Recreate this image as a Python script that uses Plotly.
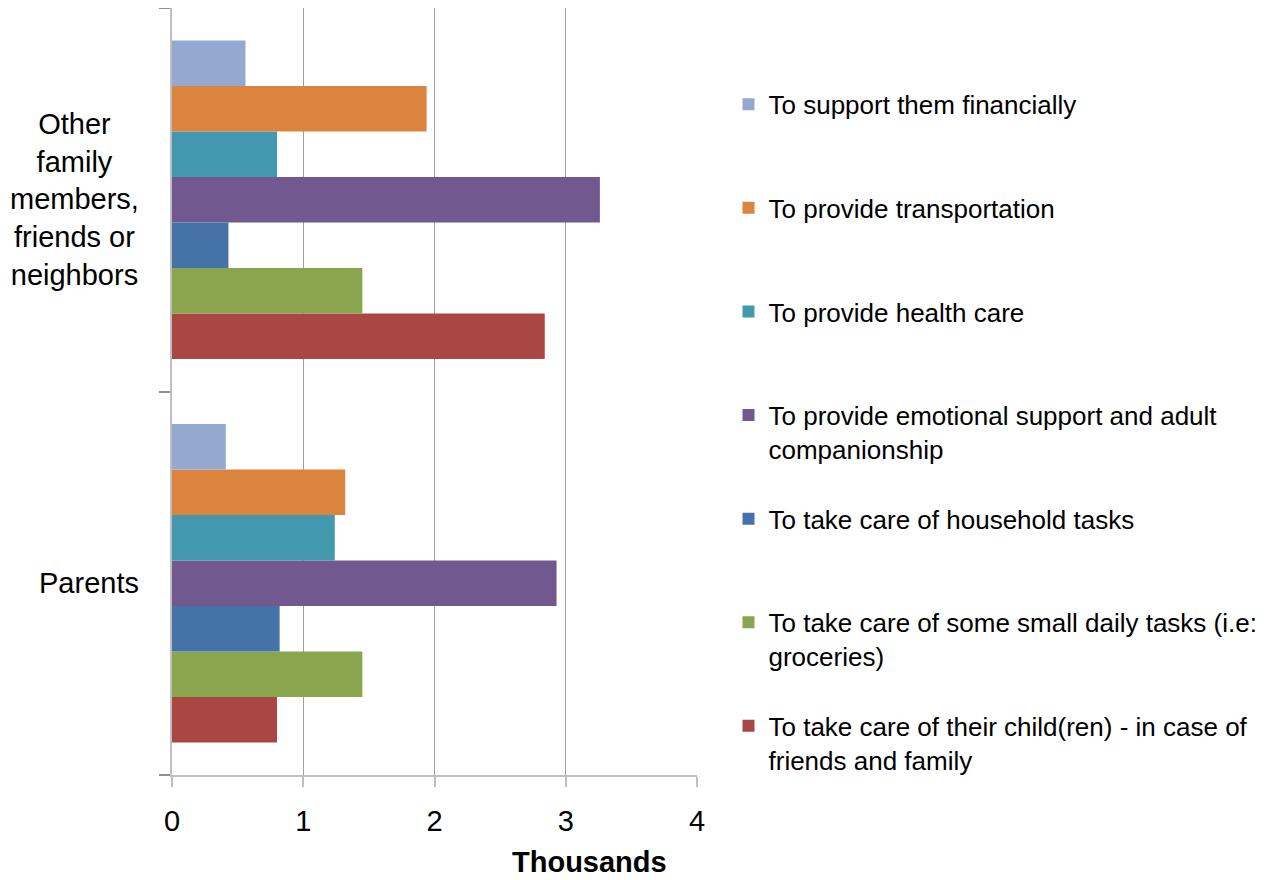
import plotly.graph_objects as go

# categories, bottom to top
categories = ["Parents", "Other family members, friends or neighbors"]
category_labels = ["Parents", "Other<br>family<br>members,<br>friends or<br>neighbors"]

# series listed from the bottom bar of each group to the top bar
series_names = [
    "To take care of their child(ren) - in case of<br>friends and family",
    "To take care of some small daily tasks (i.e:<br>groceries)",
    "To take care of household tasks<br> ",
    "To provide emotional support and adult<br>companionship",
    "To provide health care<br> ",
    "To provide transportation<br> ",
    "To support them financially<br> ",
]
# values in thousands: [Parents, Other family...]
child_care = [0.80, 2.84]
daily_tasks = [1.45, 1.45]
household = [0.82, 0.43]
emotional = [2.93, 3.26]
health_care = [1.24, 0.80]
transport = [1.32, 1.94]
financial = [0.41, 0.56]
series_values = [child_care, daily_tasks, household, emotional, health_care, transport, financial]
series_colors = ["#AA4643", "#89A54E", "#4572A7", "#71588F", "#4198AF", "#DB843D", "#93A9CF"]

x_ticks = [0, 1, 2, 3, 4]

fig = go.Figure()
n = len(series_names)
for i, (name, vals, col) in enumerate(zip(series_names, series_values, series_colors)):
    fig.add_trace(go.Bar(
        y=categories, x=vals, name=name, orientation="h",
        marker=dict(color=col, line=dict(width=0)),
        legendgroup="g%d" % i, legendrank=n - i,  # top bar listed first
    ))

# category labels, centred lines like the original
for cat, lab in zip(categories, category_labels):
    fig.add_annotation(
        x=-0.059, xref="paper", y=cat, yref="y", text=lab, showarrow=False,
        xanchor="right", yanchor="middle", align="center",
        font=dict(size=29, color="black"),
    )

fig.add_annotation(
    x=0.796, xref="paper", y=-0.113, yref="paper", text="<b>Thousands</b>",
    showarrow=False, xanchor="center", yanchor="middle",
    font=dict(size=29, color="black"),
)

# the page body adds an 8px offset, so margins are shifted to compensate
fig.update_layout(
    width=1281, height=880,
    margin=dict(l=164, r=592, t=0, b=113),
    paper_bgcolor="white", plot_bgcolor="white",
    font=dict(family="Liberation Sans, Arial, sans-serif", color="black"),
    barmode="group", bargap=0.17, bargroupgap=0,
    showlegend=True,
    legend=dict(
        x=1.06, xanchor="left", y=0.905, yanchor="top",
        traceorder="grouped", tracegroupgap=33, valign="top",
        font=dict(size=26, color="black"), itemwidth=30,
    ),
    xaxis=dict(
        range=[0, 4], tickvals=x_ticks, ticktext=[str(t) for t in x_ticks],
        showgrid=True, gridcolor="#A0A0A0", gridwidth=1.3,
        zeroline=False, showline=True, linecolor="#BFBFBF", linewidth=2,
        ticks="outside", ticklen=10, tickcolor="#BFBFBF", tickwidth=2,
        tickfont=dict(size=29), ticklabelstandoff=9,
    ),
    yaxis=dict(
        showticklabels=False, showgrid=False, zeroline=False,
        showline=True, linecolor="#BFBFBF", linewidth=2,
        ticks="outside", ticklen=11, tickcolor="#909090", tickwidth=2,
        tickson="boundaries",
    ),
)

fig.write_html("out.html")
